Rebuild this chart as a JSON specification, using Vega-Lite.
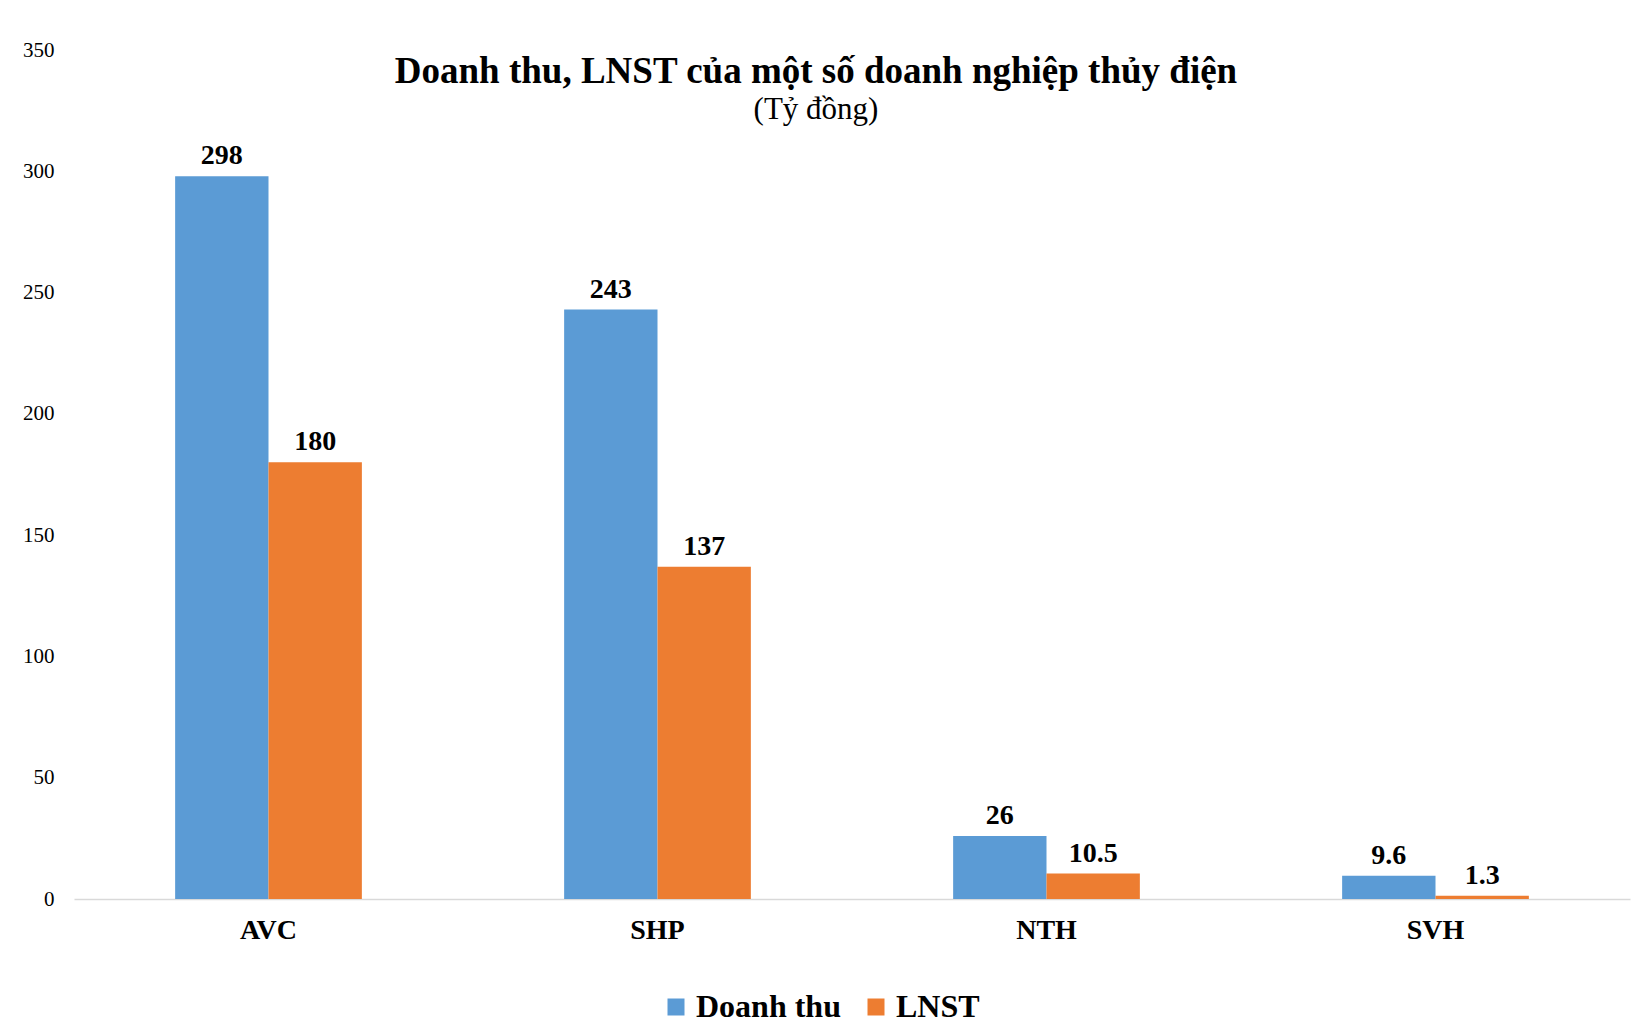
{
  "$schema": "https://vega.github.io/schema/vega-lite/v6.json",
  "autosize": "none",
  "width": 1556,
  "height": 849,
  "padding": {"left": 74, "top": 50, "right": 2, "bottom": 137},
  "background": "white",
  "title": {
    "text": "Doanh thu, LNST của một số doanh nghiệp thủy điện",
    "subtitle": "(Tỷ đồng)",
    "anchor": "middle",
    "dx": -36,
    "offset": -87,
    "font": "Liberation Serif",
    "fontSize": 37,
    "fontWeight": "bold",
    "color": "#000000",
    "subtitleFont": "Liberation Serif",
    "subtitleFontSize": 31,
    "subtitleColor": "#000000",
    "subtitlePadding": 4
  },
  "data": {
    "values": [
      {"company": "AVC", "series": "Doanh thu", "value": 298},
      {"company": "AVC", "series": "LNST", "value": 180},
      {"company": "SHP", "series": "Doanh thu", "value": 243},
      {"company": "SHP", "series": "LNST", "value": 137},
      {"company": "NTH", "series": "Doanh thu", "value": 26},
      {"company": "NTH", "series": "LNST", "value": 10.5},
      {"company": "SVH", "series": "Doanh thu", "value": 9.6},
      {"company": "SVH", "series": "LNST", "value": 1.3}
    ]
  },
  "encoding": {
    "x": {
      "field": "company",
      "type": "nominal",
      "sort": ["AVC", "SHP", "NTH", "SVH"],
      "scale": {"paddingInner": 0.52, "paddingOuter": 0.26},
      "axis": {
        "title": null,
        "labelAngle": 0,
        "ticks": false,
        "domainColor": "#d9d9d9",
        "domainWidth": 1.5,
        "labelFont": "Liberation Serif",
        "labelFontSize": 28,
        "labelFontWeight": "bold",
        "labelColor": "#000000",
        "labelPadding": 17
      }
    },
    "xOffset": {
      "field": "series",
      "type": "nominal",
      "sort": ["Doanh thu", "LNST"],
      "scale": {"paddingInner": 0, "paddingOuter": 0}
    },
    "y": {
      "field": "value",
      "type": "quantitative",
      "scale": {"domain": [0, 350], "nice": false},
      "axis": {
        "title": null,
        "values": [0, 50, 100, 150, 200, 250, 300, 350],
        "grid": false,
        "domain": false,
        "ticks": false,
        "labelFont": "Liberation Serif",
        "labelFontSize": 21,
        "labelColor": "#000000",
        "labelPadding": 20
      }
    }
  },
  "layer": [
    {
      "mark": {"type": "bar"},
      "encoding": {
        "color": {
          "field": "series",
          "type": "nominal",
          "sort": ["Doanh thu", "LNST"],
          "scale": {"domain": ["Doanh thu", "LNST"], "range": ["#5B9BD5", "#ED7D31"]},
          "legend": {
            "title": null,
            "orient": "none",
            "direction": "horizontal",
            "legendX": 586,
            "legendY": 941,
            "symbolType": "square",
            "symbolSize": 289,
            "symbolStrokeWidth": 0,
            "labelFont": "Liberation Serif",
            "labelFontSize": 32,
            "labelFontWeight": "bold",
            "labelColor": "#000000",
            "labelOffset": 4,
            "columnPadding": 19
          }
        }
      }
    },
    {
      "mark": {
        "type": "text",
        "baseline": "bottom",
        "dy": -6,
        "font": "Liberation Serif",
        "fontSize": 28,
        "fontWeight": "bold",
        "color": "#000000"
      },
      "encoding": {
        "text": {"field": "value", "type": "quantitative"}
      }
    }
  ],
  "config": {
    "view": {"stroke": null}
  }
}
